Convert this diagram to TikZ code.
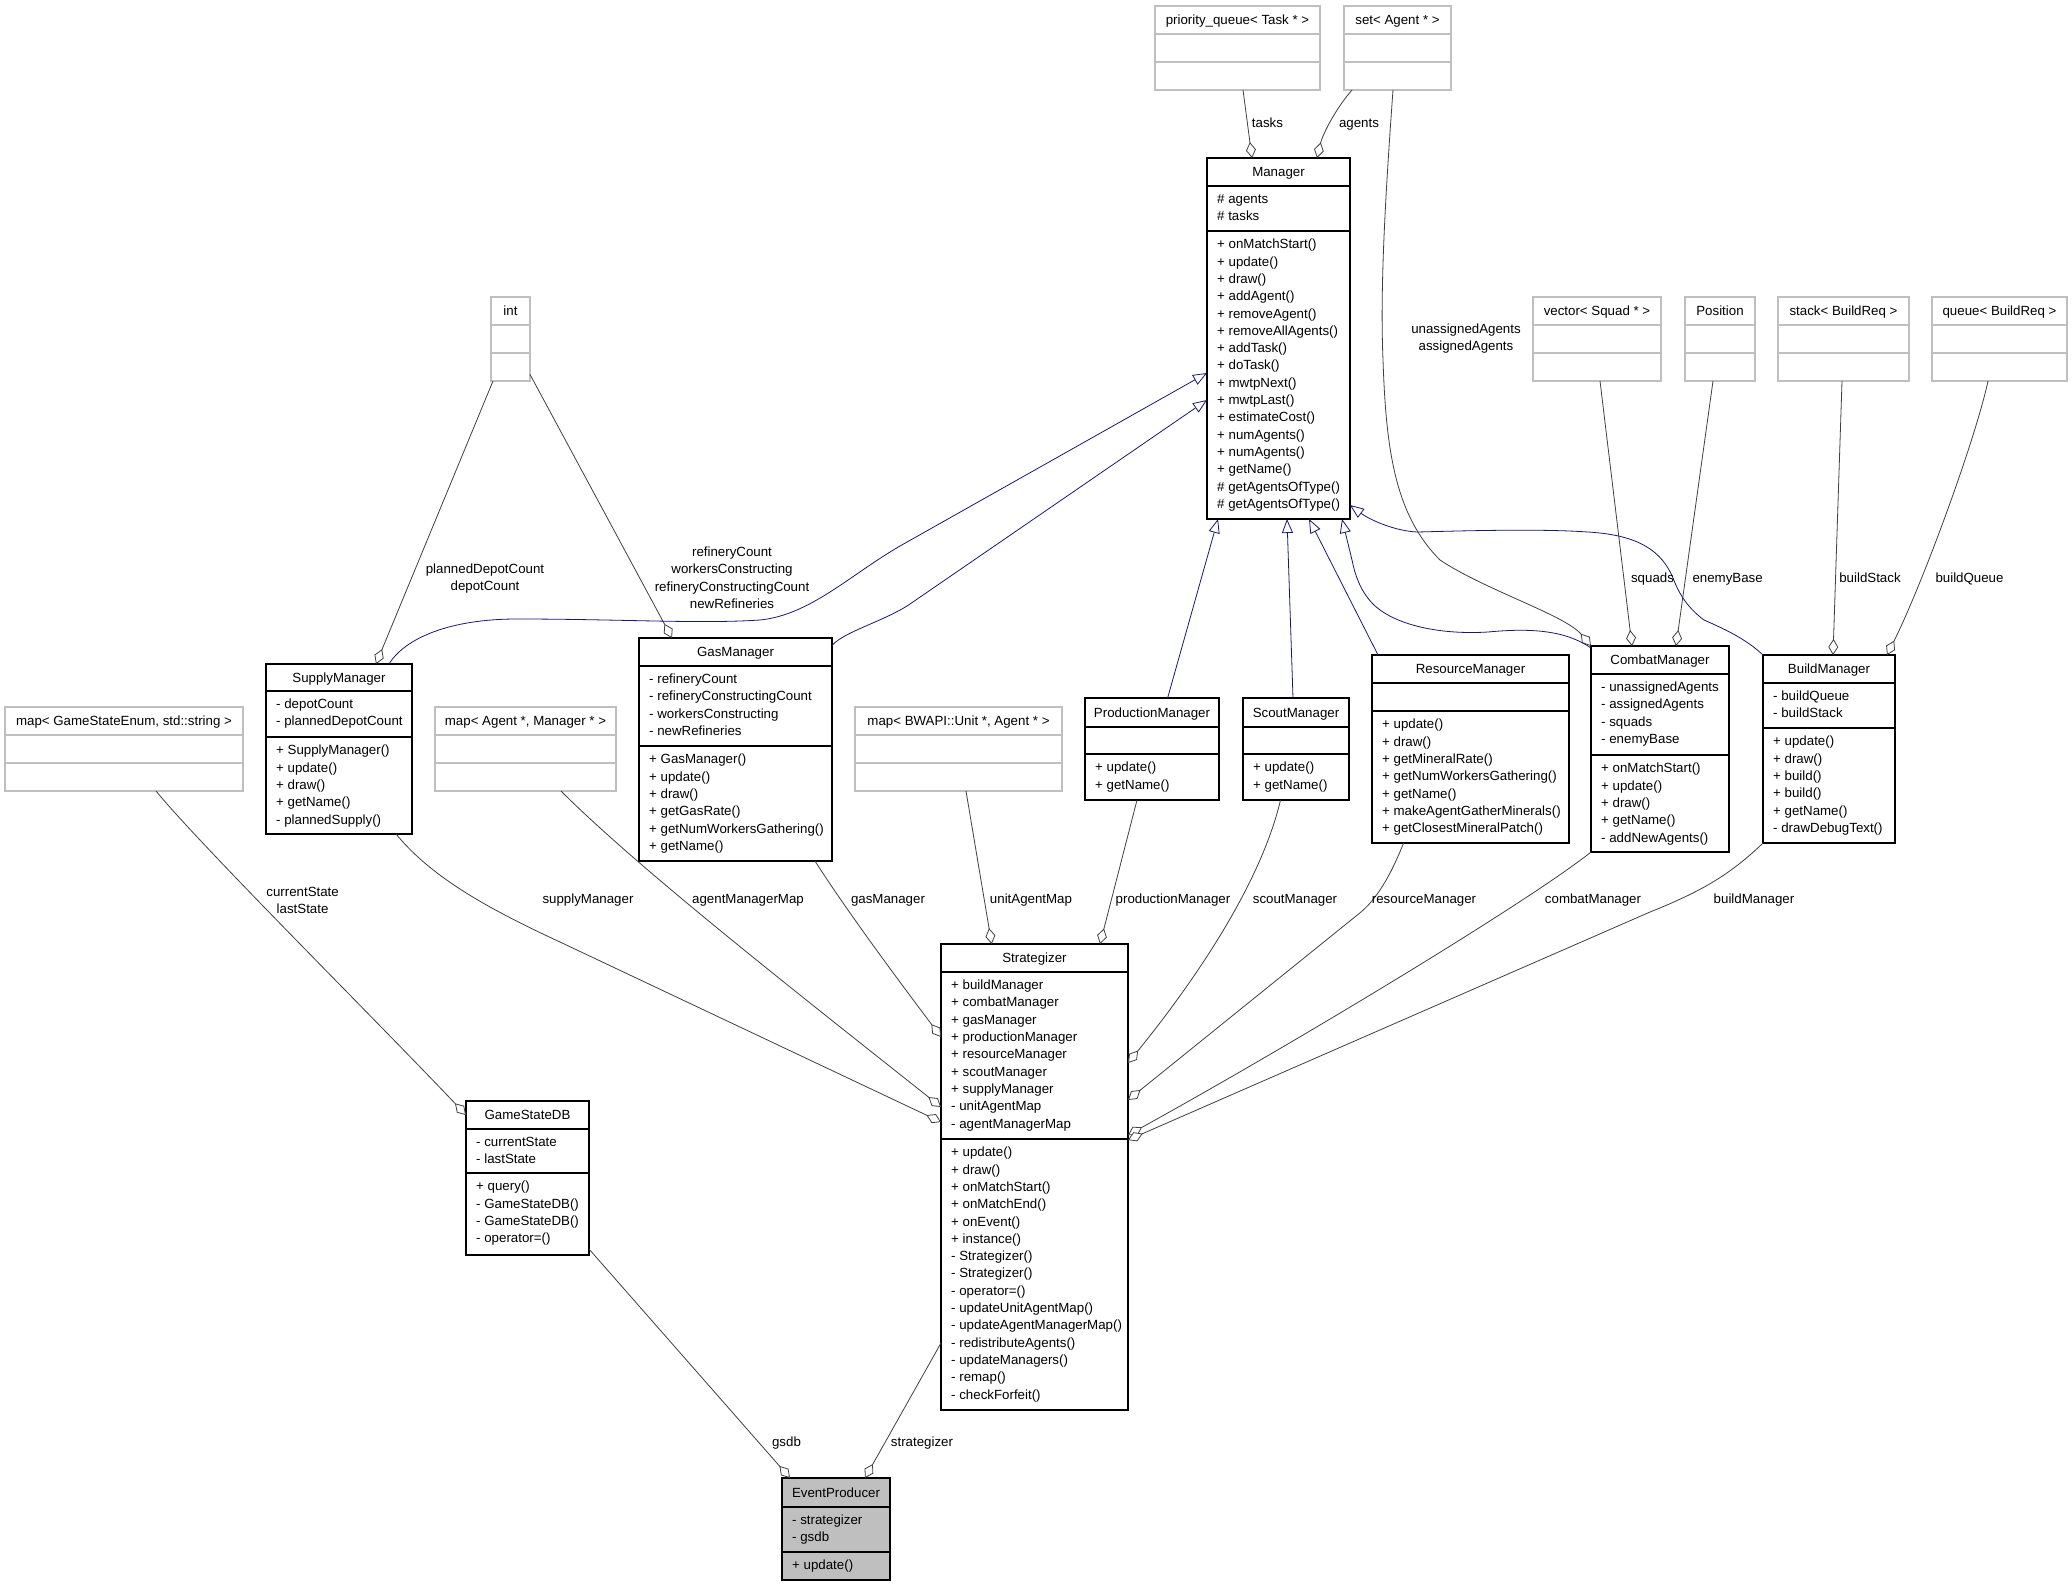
\documentclass[tikz,border=0pt]{standalone}
\usepackage{fontspec}
\setmainfont{Liberation Sans}
\usetikzlibrary{arrows.meta,fit,calc}
\definecolor{extgray}{HTML}{BFBFBF}
\definecolor{edgegray}{HTML}{404040}
\definecolor{inhblue}{HTML}{191970}
\definecolor{curfill}{HTML}{BFBFBF}
\tikzset{
 classbox/.style={draw=black, line width=1.1pt, inner sep=0pt, outer sep=0pt},
 ext/.style={draw=extgray},
 cur/.style={fill=curfill},
 classline/.style={line width=1.1pt, draw=black},
 agg/.style={draw=edgegray, line width=0.8pt, -{Diamond[length=16pt,width=10pt,fill=white]}},
 inh/.style={draw=inhblue, line width=0.8pt, -{Triangle[length=14pt,width=11pt,fill=white]}},
 lbl/.style={anchor=base, inner sep=0pt},
}
\def\umlgeom#1/#2/#3/#4/#5/#6\relax{\def\ux{#1}\def\uy{#2}\def\uX{#3}\def\uY{#4}\def\us{#5}\def\ut{#6}}
\newcommand\umlclass[6][]{%
  \umlgeom#3\relax
  \coordinate (#2-nw) at (\ux,\uy);
  \coordinate (#2-se) at (\uX,\uY);
  \node[classbox,#1,fit=(#2-nw)(#2-se)] (#2) {};
  \draw[classline,#1] (\ux,\us) -- (\uX,\us) (\ux,\ut) -- (\uX,\ut);
  \node[anchor=base,inner sep=0pt] (#2-title) at ({(\ux+\uX)/2},{(\uy+\us)/2+4.6}) {#4};
  \foreach \itm [count=\ii from 0] in {#5} {\node[anchor=base west,inner sep=0pt] (#2-a\ii) at ({\ux+10},{\us+17.6+17.3*\ii}) {\itm};}
  \foreach \itm [count=\ii from 0] in {#6} {\node[anchor=base west,inner sep=0pt] (#2-m\ii) at ({\ux+10},{\ut+17.8+17.3*\ii}) {\itm};}
}
\newcommand\elabel[4]{\node[lbl] (#1) at (#2,{#3+4.6}) {#4};}
\begin{document}
\begin{tikzpicture}[x=1pt,y=-1pt,font=\fontsize{13.3pt}{17.3pt}\selectfont]
\fill[white] (0,0) rectangle (2072,1587);
\useasboundingbox (0,0) rectangle (2072,1587);

% ---------- classes ----------
\umlclass[ext]{pq}{1155/6/1320/90/34/62}{priority\_queue< Task * >}{}{}
\umlclass[ext]{setA}{1344/6/1451/90/34/62}{set< Agent * >}{}{}
\umlclass{Manager}{1207/158/1350/519/186/231}{Manager}{\# agents,\# tasks}{+ onMatchStart(),+ update(),+ draw(),+ addAgent(),+ removeAgent(),+ removeAllAgents(),+ addTask(),+ doTask(),+ mwtpNext(),+ mwtpLast(),+ estimateCost(),+ numAgents(),+ numAgents(),+ getName(),\# getAgentsOfType(),\# getAgentsOfType()}
\umlclass[ext]{int}{491/297/530/381/325/353}{int}{}{}
\umlclass[ext]{vec}{1533/297/1661/381/325/353}{vector< Squad * >}{}{}
\umlclass[ext]{pos}{1685/297/1755/381/325/353}{Position}{}{}
\umlclass[ext]{stk}{1778/297/1909/381/325/353}{stack< BuildReq >}{}{}
\umlclass[ext]{que}{1932/297/2067/381/325/353}{queue< BuildReq >}{}{}
\umlclass[ext]{mapGS}{5/707/243/791/735/763}{map< GameStateEnum, std::string >}{}{}
\umlclass[ext]{mapAM}{435/707/616/791/735/763}{map< Agent *, Manager * >}{}{}
\umlclass[ext]{mapBW}{855/707/1062/791/735/763}{map< BWAPI::Unit *, Agent * >}{}{}
\umlclass{Supply}{266/664/412/834/691/737}{SupplyManager}{- depotCount,- plannedDepotCount}{+ SupplyManager(),+ update(),+ draw(),+ getName(),- plannedSupply()}
\umlclass{Gas}{639/638/832/861/666/746}{GasManager}{- refineryCount,- refineryConstructingCount,- workersConstructing,- newRefineries}{+ GasManager(),+ update(),+ draw(),+ getGasRate(),+ getNumWorkersGathering(),+ getName()}
\umlclass{Prod}{1085/698/1219/800/727/754}{ProductionManager}{}{+ update(),+ getName()}
\umlclass{Scout}{1243/698/1349/800/727/754}{ScoutManager}{}{+ update(),+ getName()}
\umlclass{Res}{1372/655/1569/843/683/711}{ResourceManager}{}{+ update(),+ draw(),+ getMineralRate(),+ getNumWorkersGathering(),+ getName(),+ makeAgentGatherMinerals(),+ getClosestMineralPatch()}
\umlclass{Combat}{1591/646/1729/852/674/755}{CombatManager}{- unassignedAgents,- assignedAgents,- squads,- enemyBase}{+ onMatchStart(),+ update(),+ draw(),+ getName(),- addNewAgents()}
\umlclass{Build}{1763/655/1895/843/683/728}{BuildManager}{- buildQueue,- buildStack}{+ update(),+ draw(),+ build(),+ build(),+ getName(),- drawDebugText()}
\umlclass{Strat}{941/944/1128/1410/972/1139}{Strategizer}{+ buildManager,+ combatManager,+ gasManager,+ productionManager,+ resourceManager,+ scoutManager,+ supplyManager,- unitAgentMap,- agentManagerMap}{+ update(),+ draw(),+ onMatchStart(),+ onMatchEnd(),+ onEvent(),+ instance(),- Strategizer(),- Strategizer(),- operator=(),- updateUnitAgentMap(),- updateAgentManagerMap(),- redistributeAgents(),- updateManagers(),- remap(),- checkForfeit()}
\umlclass{GSDB}{466/1101/589/1255/1129/1173}{GameStateDB}{- currentState,- lastState}{+ query(),- GameStateDB(),- GameStateDB(),- operator=()}
\umlclass[cur]{Event}{782/1478/890/1580/1507/1552}{EventProducer}{- strategizer,- gsdb}{+ update()}

% ---------- aggregation edges to Manager / managers ----------
\draw[agg] ([xshift=88pt]pq.south west) -- ([xshift=45pt]Manager.north west);
\draw[agg] ([xshift=8pt]setA.south west) .. controls +(-15,17) and +(6,-25) .. ([xshift=110pt]Manager.north west);
\draw[agg] ([xshift=49pt]setA.south west) .. controls +(-8,110) and (1380,290) .. (1383,360) .. controls (1386,450) and (1395,515) .. (1440,560) .. controls (1485,590) and (1565,615) .. (Combat.north west);
\draw[agg] ([xshift=67pt]vec.south west) -- ([xshift=41pt]Combat.north west);
\draw[agg] ([xshift=28pt]pos.south west) -- ([xshift=85pt]Combat.north west);
\draw[agg] ([xshift=64pt]stk.south west) -- ([xshift=70pt]Build.north west);
\draw[agg] ([xshift=56pt]que.south west) .. controls +(-13,60) and +(35,-70) .. ([xshift=124pt]Build.north west);
\draw[agg] ([xshift=2pt]int.south west) -- ([xshift=110pt]Supply.north west);
\draw[agg] ([yshift=6.6pt]int.south east) -- ([xshift=33pt]Gas.north west);

% ---------- inheritance ----------
\draw[inh] ([xshift=123pt]Supply.north west) .. controls +(16,-26) and (450,619) .. (517,619) .. controls (620,619) and (700,624) .. (760,620) .. controls (810,615) and (850,575) .. (900,546) -- ([yshift=-34.5pt]Manager.west);
\draw[inh] ([yshift=-7.5pt]Gas.north east) .. controls +(12,-14) and (885,621) .. (910,604) -- ([yshift=-61.5pt]Manager.west);
\draw[inh] ([xshift=82.6pt]Prod.north west) -- ([xshift=11pt]Manager.south west);
\draw[inh] ([xshift=50pt]Scout.north west) -- ([xshift=80pt]Manager.south west);
\draw[inh] ([xshift=6pt]Res.north west) -- ([xshift=102pt]Manager.south west);
\draw[inh] ([yshift=-2pt]Combat.north west) .. controls (1565,630) and (1530,628) .. (1488,632) .. controls (1440,635) and (1393,625) .. (1372,603) .. controls (1360,590) and (1355,575) .. (1352,560) -- ([xshift=135pt]Manager.south west);
\draw[inh] (Build.north west) .. controls (1745,638) and (1722,628) .. (1704,620) .. controls (1688,608) and (1680,595) .. (1675,583) .. controls (1665,555) and (1645,538) .. (1600,533) .. controls (1550,528) and (1460,531) .. (1417,532) .. controls (1395,531) and (1370,520) .. ([yshift=-166.5pt]Manager.east);

% ---------- aggregation edges to Strategizer etc. ----------
\draw[agg] ([xshift=151pt]mapGS.south west) .. controls +(45,55) and +(-90,-95) .. ([yshift=-14pt]GSDB.north west);
\draw[agg] ([yshift=6pt]GSDB.south east) -- ([xshift=8pt]Event.north west);
\draw[agg] ([yshift=67pt]Strat.south west) -- ([xshift=83pt]Event.north west);
\draw[agg] ([xshift=130pt]Supply.south west) .. controls +(34,41) and (480,905) .. (560,942) -- ([yshift=-178pt]Strat.north west);
\draw[agg] ([xshift=126pt]mapAM.south west) .. controls +(79,79) and (800,995) .. ([yshift=-163pt]Strat.north west);
\draw[agg] ([xshift=176pt]Gas.south west) .. controls +(35,55) and +(-30,-40) .. ([yshift=-93pt]Strat.north west);
\draw[agg] ([xshift=111pt]mapBW.south west) -- ([xshift=50.7pt]Strat.north west);
\draw[agg] ([xshift=52pt]Prod.south west) -- ([xshift=159pt]Strat.north west);
\draw[agg] ([xshift=37.5pt]Scout.south west) .. controls +(-20,85) and +(65,-80) .. ([yshift=-119pt]Strat.north east);
\draw[agg] ([xshift=31.6pt]Res.south west) .. controls +(-10,25) and (1380,896) .. (1361,912) -- ([yshift=-156pt]Strat.north east);
\draw[agg] (Combat.south west) .. controls +(-60,48) and +(172,-95) .. ([yshift=-191pt]Strat.north east);
\draw[agg] (Build.south west) .. controls +(-33,32) and (1700,892) .. (1650,912) -- ([yshift=-196pt]Strat.north east);

% ---------- labels ----------
\elabel{lTasks}{1267.5}{122.5}{tasks}
\elabel{lAgents}{1359}{122.5}{agents}
\elabel{lUA1}{1466}{328.6}{unassignedAgents}
\elabel{lUA2}{1466}{346}{assignedAgents}
\elabel{lSquads}{1652.5}{577.7}{squads}
\elabel{lEnemy}{1727.6}{577.7}{enemyBase}
\elabel{lStack}{1870}{577.7}{buildStack}
\elabel{lQueue}{1969.5}{577.7}{buildQueue}
\elabel{lPD1}{485}{569}{plannedDepotCount}
\elabel{lPD2}{485}{586.3}{depotCount}
\elabel{lRC1}{732}{552}{refineryCount}
\elabel{lRC2}{732}{569.3}{workersConstructing}
\elabel{lRC3}{732}{586.6}{refineryConstructingCount}
\elabel{lRC4}{732}{603.9}{newRefineries}
\elabel{lCS1}{302.6}{892}{currentState}
\elabel{lCS2}{302.6}{909.3}{lastState}
\elabel{lSM}{588}{899}{supplyManager}
\elabel{lAMM}{748}{899}{agentManagerMap}
\elabel{lGM}{888}{899}{gasManager}
\elabel{lUAM}{1031}{899}{unitAgentMap}
\elabel{lPM}{1173}{899}{productionManager}
\elabel{lSCM}{1295}{899}{scoutManager}
\elabel{lRM}{1424}{899}{resourceManager}
\elabel{lCM}{1593}{899}{combatManager}
\elabel{lBM}{1754}{899}{buildManager}
\elabel{lGsdb}{786.5}{1442}{gsdb}
\elabel{lStrat}{922}{1442}{strategizer}
\end{tikzpicture}
\end{document}
